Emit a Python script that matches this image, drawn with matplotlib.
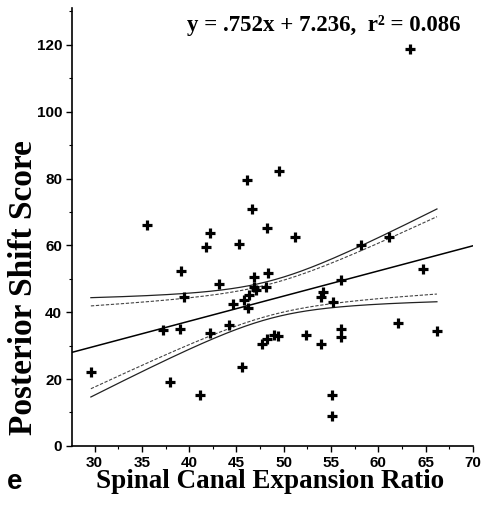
import numpy as np
import matplotlib
matplotlib.use("Agg")
import matplotlib.pyplot as plt
from matplotlib.ticker import MultipleLocator

# ---- data ----
ratio = [29.6, 35.5, 37.2, 38.0, 39.0, 39.1, 39.5, 41.1, 41.8, 42.2,
         42.2, 43.2, 44.2, 44.6, 45.3, 45.6, 46.1, 46.2, 45.8, 46.3,
         46.6, 46.8, 46.9, 47.1, 48.1, 48.3, 48.2, 49.5, 47.7, 48.2,
         49.0, 49.35, 51.2, 52.4, 53.9, 53.9, 54.1, 55.2, 55.1, 55.1,
         56.1, 56.1, 56.1, 58.15, 61.1, 62.1, 64.7, 66.2, 63.3]
shift = [22.2, 66.0, 34.8, 19.2, 35.0, 52.3, 44.7, 15.1, 59.4, 63.8,
         33.8, 48.3, 36.1, 42.6, 60.5, 23.6, 79.6, 41.4, 43.8, 45.1,
         71.0, 50.4, 47.6, 46.6, 47.5, 51.6, 65.3, 82.2, 30.5, 32.0,
         33.3, 32.8, 62.4, 33.2, 30.6, 44.7, 46.2, 43.0, 15.1, 9.0,
         49.6, 35.1, 32.6, 60.2, 62.4, 36.8, 52.8, 34.3, 118.7]
slope = 0.752
intercept = 7.236
eq_text = "y = .752x + 7.236,  r\u00b2 = 0.086"
t95, t90 = 2.012, 1.678  # two-sided t quantiles, df = 47

x_ticks = [30, 35, 40, 45, 50, 55, 60, 65, 70]
y_ticks = [0, 20, 40, 60, 80, 100, 120]

x = np.array(ratio)
y = np.array(shift)
n = len(x)
xbar = x.mean()
sxx = ((x - xbar) ** 2).sum()
resid = y - (slope * x + intercept)
s = np.sqrt((resid ** 2).sum() / (n - 2))

fig = plt.figure(figsize=(4.83, 5.09), dpi=100)
ax = fig.add_axes([0.149, 0.124, 0.830, 0.860])

ax.set_xlim(27.6, 70)
ax.set_ylim(0, 131)

# regression line over full x range
xl = np.linspace(27.6, 70, 100)
ax.plot(xl, slope * xl + intercept, color="black", lw=1.1, zorder=2)

# confidence bands over data range
xb = np.linspace(x.min(), x.max(), 200)
yb = slope * xb + intercept
se = s * np.sqrt(1.0 / n + (xb - xbar) ** 2 / sxx)
for t, ls, lw, col in [(t95, "-", 0.9, "#222222"), (t90, (0, (3, 1.5)), 0.8, "#444444")]:
    ax.plot(xb, yb + t * se, color=col, lw=lw, ls=ls, zorder=2)
    ax.plot(xb, yb - t * se, color=col, lw=lw, ls=ls, zorder=2)

ax.plot(x, y, linestyle="none", marker="+", ms=7.5, mew=2.3, color="black", zorder=3)

for sp in ["top", "right"]:
    ax.spines[sp].set_visible(False)
for sp in ["left", "bottom"]:
    ax.spines[sp].set_linewidth(1.2)

ax.set_xticks(x_ticks)
ax.set_yticks(y_ticks)
ax.xaxis.set_minor_locator(MultipleLocator(2.5))
ax.yaxis.set_minor_locator(MultipleLocator(10))
ax.tick_params(which="major", direction="out", length=4, width=1, pad=3)
ax.tick_params(which="minor", direction="out", length=2, width=0.8)
for lab in ax.get_xticklabels() + ax.get_yticklabels():
    lab.set_fontfamily("Liberation Sans")
    lab.set_fontweight("bold")
    lab.set_fontsize(11)

fig.text(270 / 483, 1 - 482 / 509, "Spinal Canal Expansion Ratio",
         fontfamily="Liberation Serif", fontweight="bold", fontsize=19.5,
         ha="center", va="center")
fig.text(24 / 483, 1 - 288 / 509, "Posterior Shift Score",
         fontfamily="Liberation Serif", fontweight="bold", fontsize=24,
         ha="center", va="center", rotation=90)

ax.text((324 - 72) / 401, (446 - 25) / 438, eq_text, transform=ax.transAxes,
        ha="center", va="center",
        fontfamily="Liberation Serif", fontweight="bold", fontsize=16.5)

fig.text(15 / 483, 1 - 482 / 509, "e", fontfamily="Liberation Sans", fontweight="bold",
         fontsize=20, ha="center", va="center")

fig.savefig("out.png", dpi=100)
